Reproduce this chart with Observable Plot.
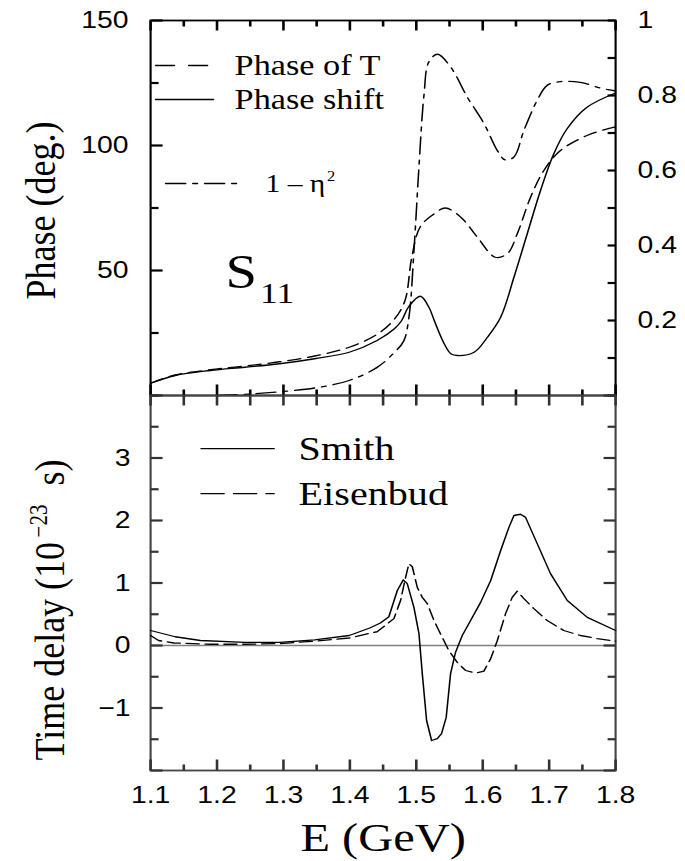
<!DOCTYPE html>
<html><head><meta charset="utf-8">
<script src="https://cdn.jsdelivr.net/npm/d3@7"></script>
<script src="https://cdn.jsdelivr.net/npm/@observablehq/plot@0.6"></script>
<style>
body{margin:0;background:#fff;}
#chart{width:685px;height:861px;position:relative;overflow:hidden;background:#fff;}
#chart svg{display:block;}
</style></head><body><div id="chart"></div>
<script>
// ---------- data ----------
// top panel: phase shift (deg.)
const phaseShiftE = [1.10,1.137,1.19,1.242,1.294,1.347,1.399,1.441,1.467,1.478,1.488,1.506,1.519,1.527,1.542,1.552,1.562,1.587,1.607,1.627,1.647,1.667,1.687,1.707,1.727,1.757,1.80];
const phaseShift  = [4.9,8,10,11.3,12.7,14.7,17.3,22,26.7,30,35.3,39.7,35.3,30,20.7,16.7,16,17.3,23.3,31.3,47.3,64.7,82,96.7,106.7,115.3,121];
// top panel: phase of T (deg.)
const phaseTE = [1.10,1.137,1.19,1.242,1.294,1.347,1.399,1.441,1.467,1.483,1.493,1.506,1.527,1.544,1.567,1.592,1.619,1.637,1.652,1.672,1.692,1.717,1.757,1.80];
const phaseT  = [4.9,8.2,10.3,11.8,13.5,15.8,19.3,24.5,30.5,38,55,67.5,72.7,75,71.3,63.3,55.3,56.7,64.7,79.3,90,98,104,107.5];
// top panel: 1 - eta^2 (right axis, 0..1)
const etaE = [1.20,1.25,1.294,1.347,1.399,1.441,1.467,1.481,1.489,1.4966,1.504,1.5115,1.519,1.532,1.552,1.577,1.602,1.622,1.634,1.647,1.662,1.682,1.697,1.717,1.747,1.777,1.80];
const eta  = [0.0,0.004,0.01,0.02,0.04,0.075,0.115,0.145,0.21,0.39,0.61,0.80,0.89,0.91,0.875,0.795,0.725,0.653,0.628,0.636,0.707,0.787,0.827,0.837,0.835,0.82,0.812];
// bottom panel: time delay (1e-23 s)
const smithE = [1.10,1.137,1.175,1.242,1.294,1.347,1.399,1.43,1.446,1.4587,1.4714,1.4804,1.4864,1.4964,1.504,1.509,1.5155,1.523,1.5316,1.538,1.545,1.5516,1.559,1.5692,1.5817,1.5968,1.612,1.627,1.6394,1.647,1.657,1.6645,1.682,1.702,1.7273,1.7574,1.80];
const smith  = [0.24,0.14,0.08,0.05,0.05,0.09,0.16,0.28,0.36,0.46,0.88,1.05,0.99,0.61,0.19,-0.45,-1.2,-1.52,-1.49,-1.41,-1.15,-0.45,-0.11,0.16,0.4,0.69,1.04,1.52,1.89,2.08,2.1,2.05,1.63,1.15,0.72,0.45,0.24];
const eisenE = [1.10,1.112,1.135,1.19,1.242,1.294,1.347,1.399,1.441,1.4663,1.4763,1.4839,1.4889,1.494,1.5015,1.509,1.5166,1.5266,1.5391,1.549,1.5617,1.5742,1.5892,1.6018,1.612,1.622,1.6344,1.6444,1.652,1.662,1.677,1.697,1.722,1.747,1.7724,1.80];
const eisen  = [0.16,0.08,0.04,0.02,0.02,0.03,0.07,0.12,0.22,0.43,0.72,1.09,1.31,1.26,0.93,0.77,0.67,0.4,0.13,-0.08,-0.27,-0.4,-0.44,-0.41,-0.21,0.08,0.51,0.77,0.87,0.75,0.59,0.4,0.24,0.16,0.11,0.07];

// ticks / labels
const xMajor = [1.1,1.2,1.3,1.4,1.5,1.6,1.7,1.8];
const xMinor = [1.15,1.25,1.35,1.45,1.55,1.65,1.75];
const phaseLabels = [50,100,150];
const phaseMinor = [0,25,75,125];
const rightLabels = [0.2,0.4,0.6,0.8,1];
const rightTicks = [0,0.1,0.2,0.3,0.4,0.5,0.6,0.7,0.8,0.9,1];
const delayLabels = [-1,0,1,2,3];
const delayMajor = [-2,-1,0,1,2,3,4];
const delayMinor = [-1.5,-0.5,0.5,1.5,2.5,3.5];

(function () {
// ---------- layout ----------
const serif = "Liberation Serif, Times New Roman, serif";
const sans = "Liberation Sans, Arial, Helvetica, sans-serif";
const W = 580, S = 685 / W;          // horizontal stretch of the original figure
const mL = 150 / S, mR = 70 / S;
const innerW = W - mL - mR, innerH = 375;
const xDom = [1.1, 1.8];
const phaseMax = 150;                 // right axis 1.0 == left axis 150
const rows = (xs, ys) => xs.map((e, i) => ({E: e, v: ys[i]}));
const fmtRight = v => String(+(v / phaseMax).toFixed(1));
const fmtMinus = d => d < 0 ? "\u2212" + Math.abs(d) : String(d);
// inward frame ticks as short line segments; length (px) converted to data units
function tickIn(side, vals, len, stroke, yDom) {
  const dY = len * (yDom[1] - yDom[0]) / innerH;
  const dX = len * (xDom[1] - xDom[0]) / innerW;
  let segs;
  if (side === "top") segs = vals.map(v => ({x1: v, x2: v, y1: yDom[1], y2: yDom[1] - dY}));
  else if (side === "bottom") segs = vals.map(v => ({x1: v, x2: v, y1: yDom[0], y2: yDom[0] + dY}));
  else if (side === "left") segs = vals.map(v => ({x1: xDom[0], x2: xDom[0] + dX, y1: v, y2: v}));
  else segs = vals.map(v => ({x1: xDom[1] - dX, x2: xDom[1], y1: v, y2: v}));
  return Plot.link(segs, {x1: "x1", x2: "x2", y1: "y1", y2: "y2", stroke, strokeWidth: 2.2, strokeOpacity: 1});
}

function stretch(svg, h) {
  svg.setAttribute("width", 685);
  svg.setAttribute("height", h);
  svg.setAttribute("viewBox", `0 0 ${W} ${h}`);
  svg.setAttribute("preserveAspectRatio", "none");
  svg.style.width = "685px";
  svg.style.height = h + "px";
  svg.style.maxWidth = "none";
  return svg;
}

// ---------- top panel ----------
const topLegend = [
  {label: "Phase of T", x0: 1.1075, x1: 1.1933, y: 132, tx: 1.2265, dash: "16,12"},
  {label: "Phase shift", x0: 1.1075, x1: 1.1948, y: 118.4, tx: 1.2265, dash: null}
];
const etaLegend = {label: "1 \u2013 \u03b7", sup: "2", x0: 1.1226, x1: 1.2355, y: 84.8, tx: 1.2731, supx: 1.3655, supy: 85.8};

const topDom = [0, 150];
const topH = 400;
const topPlot = Plot.plot({
  width: W, height: topH, marginTop: 20, marginBottom: 5, marginLeft: mL, marginRight: mR,
  x: {domain: xDom, axis: null},
  y: {domain: topDom, axis: null},
  style: {background: "transparent", fontFamily: sans, overflow: "visible"},
  marks: [
    Plot.axisY({anchor: "left", ticks: phaseLabels, tickSize: 0, tickPadding: 22 / S, fontSize: 24, fontFamily: sans, fill: "#000", label: null}),
    Plot.axisY({anchor: "right", ticks: rightLabels.map(v => v * phaseMax), tickSize: 0, tickPadding: 22 / S, tickFormat: fmtRight, fontSize: 24, fontFamily: sans, fill: "#000", label: null}),
    Plot.frame({stroke: "#000", strokeWidth: 1.8}),
    Plot.line(rows(etaE, eta), {x: "E", y: d => d.v * phaseMax, stroke: "#000", strokeWidth: 1.3, curve: "catmull-rom", strokeDasharray: "17,6,4,6"}),
    Plot.line(rows(phaseTE, phaseT), {x: "E", y: "v", stroke: "#000", strokeWidth: 1.3, curve: "catmull-rom", strokeDasharray: "11,6"}),
    Plot.line(rows(phaseShiftE, phaseShift), {x: "E", y: "v", stroke: "#000", strokeWidth: 1.3, curve: "catmull-rom"}),
    // legend
    ...topLegend.map(l => Plot.line([{E: l.x0, v: l.y}, {E: l.x1, v: l.y}], {x: "E", y: "v", stroke: "#000", strokeWidth: 1.3, strokeDasharray: l.dash})),
    Plot.text(topLegend, {x: "tx", y: "y", text: "label", textAnchor: "start", lineAnchor: "middle", fontSize: 29, fontFamily: serif, fill: "#000"}),
    Plot.line([{E: etaLegend.x0, v: etaLegend.y}, {E: etaLegend.x1, v: etaLegend.y}], {x: "E", y: "v", stroke: "#000", strokeWidth: 1.3, strokeDasharray: "17,6,4,6"}),
    Plot.text([etaLegend], {x: "tx", y: "y", text: "label", textAnchor: "start", lineAnchor: "middle", fontSize: 25, fontFamily: serif, fill: "#000"}),
    Plot.text([etaLegend], {x: "supx", y: "supy", text: "sup", textAnchor: "start", lineAnchor: "bottom", fontSize: 14, fontFamily: serif, fill: "#000"}),
    // S11
    Plot.text([{t: "S", E: 1.2129, v: 43.2}], {x: "E", y: "v", text: "t", textAnchor: "start", lineAnchor: "bottom", fontSize: 48, fontFamily: serif, fill: "#000"}),
    Plot.text([{t: "11", E: 1.2648, v: 37.2}], {x: "E", y: "v", text: "t", textAnchor: "start", lineAnchor: "bottom", fontSize: 30, fontFamily: serif, fill: "#000"}),
    // y title
    Plot.text([{t: "Phase (deg.)", v: 74}], {frameAnchor: "left", y: "v", text: "t", rotate: -90, dx: 54 / S - mL, textAnchor: "middle", lineAnchor: "bottom", fontSize: 36, fontFamily: serif, fill: "#000"}),
    // frame ticks (inward)
    tickIn("top", xMajor, 10, "#000", topDom),
    tickIn("top", xMinor, 6, "#000", topDom),
    tickIn("bottom", xMajor, 11, "#000", topDom),
    tickIn("bottom", xMinor, 6, "#000", topDom),
    tickIn("left", phaseLabels, 12 / S, "#000", topDom),
    tickIn("left", phaseMinor, 8 / S, "#000", topDom),
    tickIn("right", rightTicks.map(v => v * phaseMax), 8 / S, "#000", topDom)
  ]
});

// ---------- bottom panel ----------
const botLegend = [
  {label: "Smith", x0: 1.176, x1: 1.286, y: 3.15, tx: 1.3228, dash: null},
  {label: "Eisenbud", x0: 1.176, x1: 1.286, y: 2.43, tx: 1.3228, dash: "19.5,8"}
];
const botDom = [-2, 4];
const botH = 471;
const bottomPlot = Plot.plot({
  width: W, height: botH, marginTop: 5, marginBottom: 91, marginLeft: mL, marginRight: mR,
  x: {domain: xDom, axis: null},
  y: {domain: botDom, axis: null},
  style: {background: "transparent", fontFamily: sans, overflow: "visible"},
  marks: [
    Plot.ruleY([0], {stroke: "#808080", strokeWidth: 1.5}),
    Plot.axisX({anchor: "bottom", ticks: xMajor, tickSize: 0, tickPadding: 15, tickFormat: d3.format(".1f"), fontSize: 24, fontFamily: sans, fill: "#000", label: null}),
    Plot.axisY({anchor: "left", ticks: delayLabels, tickSize: 0, tickPadding: 20 / S, tickFormat: fmtMinus, fontSize: 24, fontFamily: sans, fill: "#000", label: null}),
    Plot.frame({stroke: "#444", strokeWidth: 1.8}),
    Plot.line(rows(eisenE, eisen), {x: "E", y: "v", stroke: "#000", strokeWidth: 1.3, strokeDasharray: "11,5"}),
    Plot.line(rows(smithE, smith), {x: "E", y: "v", stroke: "#000", strokeWidth: 1.3}),
    // legend
    ...botLegend.map(l => Plot.line([{E: l.x0, v: l.y}, {E: l.x1, v: l.y}], {x: "E", y: "v", stroke: "#000", strokeWidth: 1.3, strokeDasharray: l.dash})),
    Plot.text(botLegend, {x: "tx", y: "y", text: "label", textAnchor: "start", lineAnchor: "middle", fontSize: 34, fontFamily: serif, fill: "#000"}),
    // y title with superscript
    Plot.text([{t: "Time delay (10", v: -1.84}], {frameAnchor: "left", y: "v", text: "t", rotate: -90, dx: 63 / S - mL, textAnchor: "start", lineAnchor: "bottom", fontSize: 36, fontFamily: serif, fill: "#000"}),
    Plot.text([{t: "\u221223", v: 1.73}], {frameAnchor: "left", y: "v", text: "t", rotate: -90, dx: 46 / S - mL, textAnchor: "start", lineAnchor: "bottom", fontSize: 21, fontFamily: serif, fill: "#000"}),
    Plot.text([{t: "s)", v: 2.56}], {frameAnchor: "left", y: "v", text: "t", rotate: -90, dx: 63 / S - mL, textAnchor: "start", lineAnchor: "bottom", fontSize: 36, fontFamily: serif, fill: "#000"}),
    // x title
    Plot.text(["E (GeV)"], {frameAnchor: "bottom", dy: 80, text: d => d, lineAnchor: "bottom", textAnchor: "middle", fontSize: 41, fontFamily: serif, fill: "#000"}),
    // frame ticks (inward)
    tickIn("top", xMajor, 10, "#333", botDom),
    tickIn("top", xMinor, 10, "#333", botDom),
    tickIn("bottom", xMajor, 11, "#333", botDom),
    tickIn("bottom", xMinor, 6, "#333", botDom),
    tickIn("left", delayMajor, 12 / S, "#333", botDom),
    tickIn("left", delayMinor, 8 / S, "#333", botDom),
    tickIn("right", delayMajor, 12 / S, "#333", botDom),
    tickIn("right", delayMinor, 8 / S, "#333", botDom)
  ]
});

const chart = document.getElementById("chart");
chart.appendChild(stretch(topPlot, topH));
const b = stretch(bottomPlot, botH);
b.style.marginTop = "-10px";
chart.appendChild(b);
})();
</script>
</body></html>
